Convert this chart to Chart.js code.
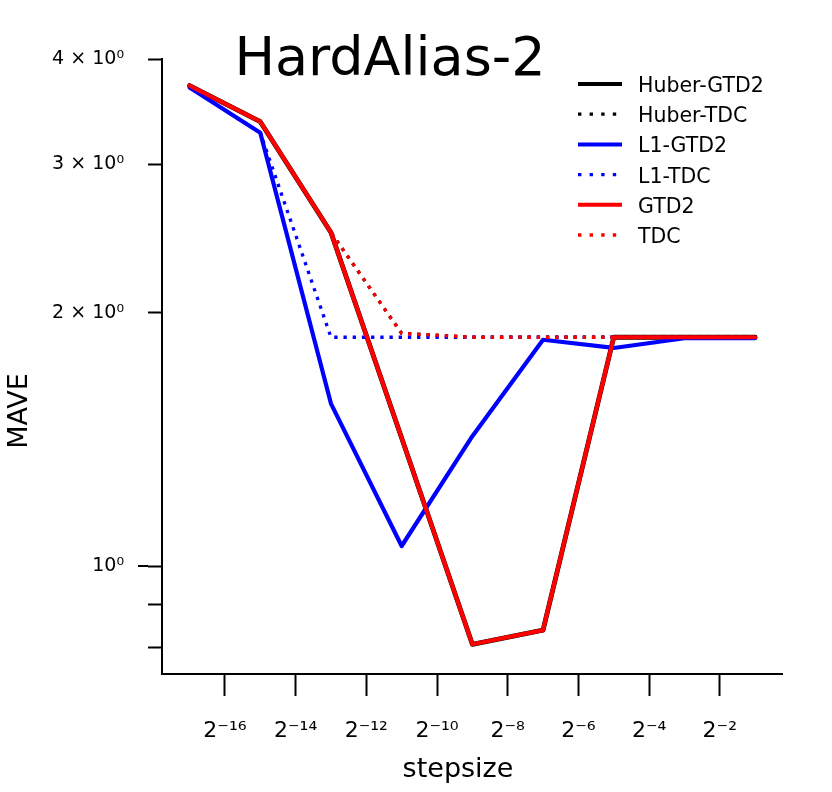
<!DOCTYPE html>
<html><head><meta charset="utf-8">
<script src="https://cdn.jsdelivr.net/npm/chart.js@4.4.1/dist/chart.umd.min.js"></script>
<style>html,body{margin:0;padding:0;background:#fff}#wrap{width:832px;height:792px}</style>
</head><body><div id="wrap"><canvas id="c" width="832" height="792"></canvas></div>
<script>
const chartTitle = 'HardAlias-2';
const xAxisTitle = 'stepsize';
const yAxisTitle = 'MAVE';
const stepExponents = [-17, -15, -13, -11, -9, -7, -5, -3, -1];
const huberGTD2 = [3.72, 3.37, 2.49, 1.42, 0.808, 0.840, 1.87, 1.87, 1.87];
const huberTDC  = [3.72, 3.37, 2.49, 1.89, 1.87, 1.87, 1.87, 1.87, 1.87];
const l1GTD2    = [3.70, 3.27, 1.56, 1.057, 1.427, 1.857, 1.816, 1.865, 1.865];
const l1TDC     = [3.70, 3.27, 1.87, 1.87, 1.87, 1.87, 1.87, 1.87, 1.87];
const gtd2      = [3.72, 3.37, 2.49, 1.42, 0.808, 0.840, 1.87, 1.87, 1.87];
const tdc       = [3.72, 3.37, 2.49, 1.89, 1.87, 1.87, 1.87, 1.87, 1.87];
const xTickValues = [-16, -14, -12, -10, -8, -6, -4, -2];
const xTickLabels = ['2⁻¹⁶', '2⁻¹⁴', '2⁻¹²', '2⁻¹⁰', '2⁻⁸', '2⁻⁶', '2⁻⁴', '2⁻²'];
const yTickValues = [0.8, 0.9, 1, 2, 3, 4];
const yTickLabels = ['', '', '10⁰', '2 × 10⁰', '3 × 10⁰', '4 × 10⁰'];

const FONT = 'DejaVu Sans';
Chart.defaults.font.family = FONT;
Chart.defaults.color = '#000';

const pts = ys => stepExponents.map((x, i) => ({x: x, y: ys[i]}));
const DOT = [3.3, 5.9];
function solid(label, data, color, w, order) {
  return {label, data: pts(data), borderColor: color, backgroundColor: color, borderWidth: w,
    pointRadius: 0, tension: 0, borderJoinStyle: 'round', borderCapStyle: 'round', order, fill: false};
}
function dotted(label, data, color, order) {
  return {label, data: pts(data), borderColor: color, backgroundColor: color, borderWidth: 3.3,
    borderDash: DOT, pointRadius: 0, tension: 0, borderCapStyle: 'butt', order, fill: false};
}

const overlay = {
  id: 'overlay',
  afterDraw(chart) {
    const ctx = chart.ctx;
    const ys = chart.scales.y;
    ctx.save();
    // longer major tick at 10^0
    const py = Math.round(ys.getPixelForValue(1));
    ctx.strokeStyle = '#000'; ctx.lineWidth = 2; ctx.setLineDash([]);
    ctx.beginPath(); ctx.moveTo(ys.right - 14, py); ctx.lineTo(ys.right - 24, py); ctx.stroke();
    // title
    ctx.fillStyle = '#000';
    ctx.font = '54px "' + FONT + '"';
    ctx.textAlign = 'center'; ctx.textBaseline = 'alphabetic';
    ctx.fillText(chartTitle, 390, 75);
    // axis titles
    ctx.font = '27px "' + FONT + '"';
    ctx.textBaseline = 'middle';
    ctx.fillText(xAxisTitle, 458, 770);
    ctx.save();
    ctx.translate(20, 411);
    ctx.rotate(-Math.PI / 2);
    ctx.fillText(yAxisTitle, 0, 0);
    ctx.restore();
    // legend
    ctx.font = '20.5px "' + FONT + '"';
    ctx.textAlign = 'left'; ctx.textBaseline = 'alphabetic';
    chart.data.datasets.forEach((ds, i) => {
      const y = 84 + i * 30.2;
      ctx.strokeStyle = ds.borderColor;
      ctx.lineWidth = ds.borderDash ? 3.3 : 4;
      ctx.setLineDash(ds.borderDash ? [3.4, 8.2] : []);
      ctx.lineCap = 'butt';
      ctx.beginPath(); ctx.moveTo(578, y); ctx.lineTo(622, y); ctx.stroke();
      ctx.fillStyle = '#000';
      ctx.fillText(ds.label, 638, y + 8);
    });
    ctx.restore();
  }
};

new Chart(document.getElementById('c'), {
  type: 'line',
  data: {
    datasets: [
      solid('Huber-GTD2', huberGTD2, '#000000', 4.8, 5),
      dotted('Huber-TDC', huberTDC, '#000000', 4),
      solid('L1-GTD2', l1GTD2, '#0000ff', 4.2, 3),
      dotted('L1-TDC', l1TDC, '#0000ff', 2),
      solid('GTD2', gtd2, '#ff0000', 4.2, 1),
      dotted('TDC', tdc, '#ff0000', 0)
    ]
  },
  options: {
    responsive: false,
    animation: false,
    devicePixelRatio: 1,
    layout: {padding: {top: 59, right: 50, left: 0, bottom: 0}},
    plugins: {legend: {display: false}, title: {display: false}, tooltip: {enabled: false}},
    scales: {
      x: {
        type: 'linear', min: -17.78, max: -0.24, bounds: 'data',
        afterBuildTicks: s => { s.ticks = xTickValues.map(v => ({value: v})); },
        afterFit: s => { s.height = 118; },
        grid: {display: true, drawOnChartArea: false, drawTicks: true, tickLength: 22, tickColor: '#000', tickWidth: 2},
        border: {display: true, color: '#000', width: 2},
        ticks: {autoSkip: false, maxRotation: 0, padding: 22, color: '#000', font: {family: FONT, size: 22},
          callback: v => xTickLabels[xTickValues.indexOf(v)] ?? ''},
        title: {display: false}
      },
      y: {
        type: 'logarithmic', min: 0.745, max: 4.0, bounds: 'data',
        afterBuildTicks: s => { s.ticks = yTickValues.map(v => ({value: v})); },
        afterFit: s => { s.width = 162; },
        grid: {display: true, drawOnChartArea: false, drawTicks: true, tickLength: 14, tickColor: '#000', tickWidth: 2},
        border: {display: true, color: '#000', width: 2},
        ticks: {autoSkip: false, padding: 24, color: '#000', font: {family: FONT, size: 19},
          callback: v => yTickLabels[yTickValues.indexOf(v)] ?? ''},
        title: {display: false}
      }
    }
  },
  plugins: [overlay]
});
</script>
</body></html>
